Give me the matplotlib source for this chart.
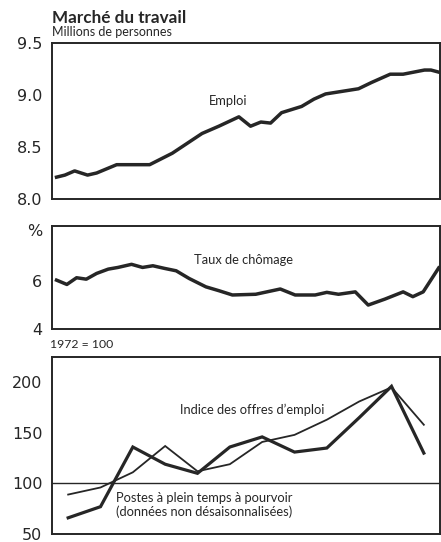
import matplotlib
matplotlib.use("Agg")
import matplotlib.pyplot as plt

# ---- data (time in years from start of the period) ----
emploi_t = [0.07, 0.20, 0.35, 0.55, 0.69, 1.00, 1.51, 1.86, 2.32, 2.58, 2.89,
            3.07, 3.23, 3.38, 3.55, 3.86, 4.05, 4.23, 4.74, 4.94, 5.23, 5.43,
            5.76, 5.86, 5.98]
emploi_v = [8.21, 8.23, 8.27, 8.23, 8.25, 8.33, 8.33, 8.44, 8.63, 8.70, 8.79,
            8.70, 8.74, 8.73, 8.83, 8.89, 8.96, 9.01, 9.06, 9.12, 9.20, 9.20,
            9.24, 9.24, 9.22]

chom_t = [0.07, 0.23, 0.38, 0.53, 0.69, 0.87, 1.02, 1.23, 1.40, 1.56, 1.74,
          1.92, 2.12, 2.38, 2.58, 2.79, 3.15, 3.53, 3.76, 4.07, 4.25, 4.43,
          4.69, 4.89, 5.15, 5.43, 5.58, 5.74, 5.98]
chom_v = [6.04, 5.86, 6.14, 6.08, 6.32, 6.50, 6.57, 6.70, 6.57, 6.64, 6.53,
          6.43, 6.11, 5.76, 5.60, 5.42, 5.45, 5.67, 5.42, 5.42, 5.53, 5.45,
          5.55, 5.00, 5.25, 5.55, 5.35, 5.55, 6.55]

semi_t = [0.25, 0.75, 1.25, 1.75, 2.25, 2.75, 3.25, 3.75, 4.25, 4.75, 5.25, 5.75]
postes_v = [66, 77, 136, 119, 110, 136, 146, 131, 135, 165, 196, 130]
indice_v = [89, 96, 111, 137, 112, 119, 141, 148, 163, 181, 195, 158]

emploi_ticks = [8.0, 8.5, 9.0, 9.5]
emploi_ticklabels = ["8.0", "8.5", "9.0", "9.5"]
chom_ticks = [4, 6, 8.15]
chom_ticklabels = ["4", "6", "%"]
index_ticks = [50, 100, 150, 200]
index_ticklabels = ["50", "100", "150", "200"]

title = "Marché du travail"
subtitle = "Millions de personnes"
index_note = "1972 = 100"

# ---- figure ----
W, H = 441, 542
fig = plt.figure(figsize=(W / 100, H / 100), dpi=100)
fig.patch.set_facecolor("white")

INK = "#262626"
TXT = "Lato"
ANN = 9.3

def px_axes(x0, y0, x1, y1):
    return fig.add_axes([x0 / W, 1 - y1 / H, (x1 - x0) / W, (y1 - y0) / H])

def style(ax):
    for s in ax.spines.values():
        s.set_linewidth(1.4)
        s.set_color(INK)
    ax.tick_params(axis="y", length=0, pad=7, labelsize=11.5, colors=INK)
    ax.tick_params(axis="x", length=0, labelbottom=False)
    ax.set_xticks([])
    ax.set_xlim(0, 6)
    for lab in ax.get_yticklabels():
        lab.set_fontfamily("DejaVu Sans")

ax1 = px_axes(52, 43, 440, 199)
ax2 = px_axes(52, 226, 440, 329)
ax3 = px_axes(52, 357, 440, 534)

# Panel 1 : emploi
ax1.plot(emploi_t, emploi_v, color=INK, lw=2.5, solid_joinstyle="round")
ax1.set_ylim(8.0, 9.5)
ax1.set_yticks(emploi_ticks)
ax1.set_yticklabels(emploi_ticklabels)
style(ax1)
ax1.text(2.73, 8.94, "Emploi", ha="center", va="center", fontsize=ANN,
         family=TXT, color=INK)

# Panel 2 : chômage
ax2.plot(chom_t, chom_v, color=INK, lw=2.5, solid_joinstyle="round")
ax2.set_ylim(4, 8.3)
ax2.set_yticks(chom_ticks)
ax2.set_yticklabels(chom_ticklabels)
style(ax2)
ax2.text(2.96, 6.87, "Taux de chômage", ha="center", va="center",
         fontsize=ANN, family=TXT, color=INK)

# Panel 3 : offres d'emploi
ax3.axhline(100, color=INK, lw=1.0)
ax3.plot(semi_t, postes_v, color=INK, lw=2.3, solid_joinstyle="miter")
ax3.plot(semi_t, indice_v, color=INK, lw=1.3, solid_joinstyle="miter")
ax3.set_ylim(50, 225)
ax3.set_yticks(index_ticks)
ax3.set_yticklabels(index_ticklabels)
style(ax3)
ax3.text(3.09, 173, "Indice des offres d\u2019emploi", ha="center", va="center",
         fontsize=ANN, family=TXT, color=INK)
ax3.text(2.36, 79, "Postes à plein temps à pourvoir\n(données non désaisonnalisées)",
         ha="center", va="center", fontsize=ANN, family=TXT, color=INK,
         linespacing=1.15)

# titles
fig.text(52 / W, 1 - 23 / H, title, ha="left", va="baseline", fontsize=12.3,
         fontweight="bold", family=TXT, color=INK)
fig.text(52 / W, 1 - 36 / H, subtitle, ha="left", va="baseline", fontsize=9,
         family=TXT, color=INK)
fig.text(50 / W, 1 - 345 / H, index_note, ha="left", va="center", fontsize=8.8,
         family=TXT, color=INK)

fig.savefig("out.png", dpi=100, facecolor="white")
